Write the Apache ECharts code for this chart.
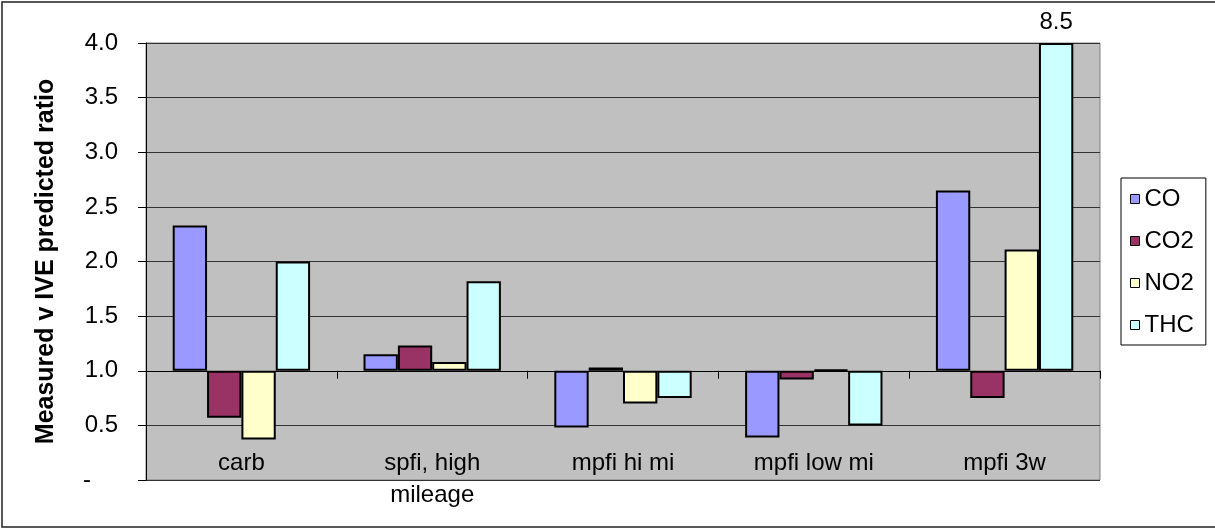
<!DOCTYPE html>
<html>
<head>
<meta charset="utf-8">
<script src="https://cdn.jsdelivr.net/npm/echarts@6/dist/echarts.min.js"></script>
<style>
html, body { margin: 0; padding: 0; background: #fff; }
#chart { width: 1215px; height: 529px; }
</style>
</head>
<body>
<div id="chart"></div>
<script>
const categories = ['carb', 'spfi, high\nmileage', 'mpfi hi mi', 'mpfi low mi', 'mpfi 3w'];
const seriesNames = ['CO', 'CO2', 'NO2', 'THC'];
const CO  = [2.33, 1.15, 0.48, 0.39, 2.65];
const CO2 = [0.57, 1.23, 1.03, 0.92, 0.75];
const NO2 = [0.37, 1.08, 0.70, 1.01, 2.11];
const THC = [2.00, 1.82, 0.75, 0.50, 8.5];
const colors = ['#9999FF', '#993366', '#FFFFCC', '#CCFFFF'];
const baseline = 1.0;
const yMin = 0, yMax = 4.0, yStep = 0.5;
const yTitle = 'Measured v IVE predicted ratio';

const FONT = '"Liberation Sans", Arial, sans-serif';
const values = [CO, CO2, NO2, THC];

const series = seriesNames.map((name, i) => ({
  name,
  type: 'bar',
  xAxisIndex: 0,
  barGap: '0%',
  barCategoryGap: '28%',
  itemStyle: { color: colors[i], borderColor: '#000', borderWidth: 2 },
  emphasis: { disabled: true },
  data: values[i].map(v => {
    const clipped = v > yMax;
    const item = { value: Math.min(v, yMax) - baseline };
    if (clipped) {
      item.label = {
        show: true, position: 'top', distance: 9,
        formatter: () => String(v),
        fontFamily: FONT, fontSize: 24, color: '#000'
      };
    }
    return item;
  })
}));

const chart = echarts.init(document.getElementById('chart'), null, { renderer: 'canvas' });
chart.setOption({
  animation: false,
  backgroundColor: '#fff',
  textStyle: { fontFamily: FONT },
  graphic: [{
    type: 'rect', silent: true, z: -10,
    shape: { x: 2, y: 2, width: 1230, height: 525 },
    style: { fill: 'none', stroke: '#222', lineWidth: 1.5 }
  }],
  grid: {
    left: 146, top: 43, right: 115, bottom: 49,
    show: true, backgroundColor: '#C0C0C0', borderColor: '#808080', borderWidth: 1
  },
  legend: {
    orient: 'vertical', left: 1121, top: 178,
    data: seriesNames,
    itemWidth: 9, itemHeight: 9, itemGap: 18,
    padding: [9, 12, 8, 9],
    borderColor: '#000', borderWidth: 1,
    icon: 'rect',
    itemStyle: { borderColor: '#000', borderWidth: 1 },
    textStyle: { fontFamily: FONT, fontSize: 24, color: '#000', lineHeight: 24 },
    selectedMode: false
  },
  xAxis: [{
    type: 'category', data: categories, position: 'bottom',
    axisLine: { show: true, onZero: true, lineStyle: { color: '#000', width: 1 } },
    axisTick: { show: true, length: 8, lineStyle: { color: '#000' } },
    axisLabel: { show: false },
    splitLine: { show: false }
  }, {
    type: 'category', data: categories, position: 'bottom',
    axisLine: { show: false, onZero: false },
    axisTick: { show: false },
    axisLabel: {
      interval: 0, margin: -33, fontFamily: FONT, fontSize: 24, lineHeight: 32, color: '#000'
    },
    splitLine: { show: false }
  }],
  yAxis: {
    type: 'value',
    min: yMin - baseline, max: yMax - baseline, interval: yStep,
    name: yTitle, nameLocation: 'middle', nameGap: 87,
    nameTextStyle: { fontFamily: FONT, fontSize: 25, fontWeight: 'bold', color: '#000' },
    axisLine: { show: true, lineStyle: { color: '#000', width: 1 } },
    axisTick: { show: true, length: 8, lineStyle: { color: '#000' } },
    axisLabel: {
      margin: 28, fontFamily: FONT, fontSize: 24, color: '#000',
      formatter: v => {
        const r = v + baseline;
        return Math.abs(r) < 1e-9 ? '{d|-}' : r.toFixed(1);
      },
      rich: { d: { fontFamily: FONT, fontSize: 24, color: '#000', padding: [0, 27, 0, 0] } }
    },
    splitLine: { show: true, lineStyle: { color: '#333', width: 1 } }
  },
  series
});
</script>
</body>
</html>
